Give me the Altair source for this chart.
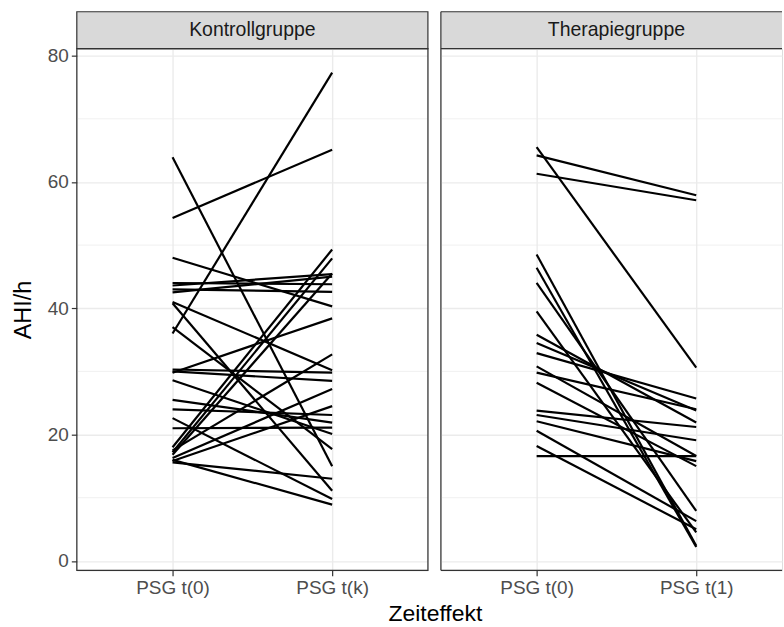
import altair as alt
import pandas as pd

panels = ["Kontrollgruppe", "Therapiegruppe"]
x_labels_left = ["PSG t(0)", "PSG t(k)"]
x_labels_right = ["PSG t(0)", "PSG t(1)"]
y_ticks = [0, 20, 40, 60, 80]
y_minor = [10, 30, 50, 70]

kontroll_t0 = [63.9, 54.3, 36.0, 48.0, 44.0, 43.6, 43.0, 42.5, 41.0, 40.8, 37.0, 30.3, 30.0, 29.8,
               28.6, 25.5, 24.0, 22.6, 21.0, 18.0, 17.5, 17.2, 16.8, 16.3, 15.8, 15.6, 16.0]
kontroll_tk = [15.0, 65.1, 77.3, 40.3, 43.8, 45.4, 42.6, 45.0, 30.2, 11.1, 17.7, 29.8, 28.5, 38.4,
               20.1, 21.9, 23.1, 9.8, 21.1, 49.3, 32.7, 47.9, 45.5, 27.2, 24.5, 13.0, 8.9]

therapie_t0 = [65.5, 64.2, 61.3, 48.5, 46.4, 44.0, 39.5, 35.8, 34.5, 32.9, 30.8, 29.8, 28.2, 23.8,
               23.1, 22.1, 20.6, 18.2, 16.6]
therapie_t1 = [30.6, 57.9, 57.1, 2.4, 2.2, 7.9, 4.5, 21.9, 23.8, 25.7, 16.6, 24.0, 15.0, 21.2,
               19.1, 15.8, 6.3, 5.0, 16.6]

W_L, W_R, H, STRIP = 352, 342, 523, 37
Y_DOMAIN = [-1.5, 81.1]
FONT = "Liberation Sans"


def panel(name, t0, t1, labels, width, x_max, first):
    n = len(t0)
    df = pd.DataFrame({"id": list(range(n)) * 2, "t": [0] * n + [1] * n, "ahi": list(t0) + list(t1)})
    minor_df = pd.DataFrame({"ahi": y_minor})
    strip_df = pd.DataFrame({"panel": [name]})
    label_expr = f"datum.value == 0 ? '{labels[0]}' : '{labels[1]}'"

    xscale = alt.Scale(domain=[-0.6, x_max], nice=False, zero=False)
    yscale = alt.Scale(domain=Y_DOMAIN, nice=False, zero=False)

    xaxis_kw = dict(values=[0, 1], labelExpr=label_expr, grid=True, gridColor="#EBEBEB", gridWidth=1.4,
                    labelFontSize=19, labelColor="#4D4D4D", labelPadding=3, tickColor="#333333",
                    tickSize=5.5, tickWidth=1.2, domain=False, labelFont=FONT)
    if first:
        xaxis = alt.Axis(title="Zeiteffekt", titleX=359, titleY=50, titleBaseline="alphabetic",
                         titleAnchor="start", titleAlign="center", titleFontSize=23,
                         titleFontWeight="normal", titleColor="#000000", titleFont=FONT, **xaxis_kw)
        yaxis = alt.Axis(values=y_ticks, title="AHI/h", grid=True, gridColor="#EBEBEB", gridWidth=1.4,
                         labelFontSize=19, labelColor="#4D4D4D", labelPadding=3, tickColor="#333333",
                         tickSize=5.5, tickWidth=1.2, domain=False, titleFontSize=23.5,
                         titleFontWeight="normal", titleColor="#000000", titlePadding=12,
                         labelFont=FONT, titleFont=FONT)
    else:
        xaxis = alt.Axis(title=None, **xaxis_kw)
        yaxis = alt.Axis(values=y_ticks, title=None, grid=True, gridColor="#EBEBEB", gridWidth=1.4,
                         labels=False, ticks=False, domain=False)

    minor = alt.Chart(minor_df).mark_rule(color="#EBEBEB", strokeWidth=0.7).encode(
        y=alt.Y("ahi:Q", scale=yscale, axis=yaxis), x=alt.value(0), x2=alt.value(width))

    lines = alt.Chart(df).mark_line(color="black", strokeWidth=2.2).encode(
        x=alt.X("t:Q", scale=xscale, axis=xaxis),
        y=alt.Y("ahi:Q", scale=yscale, axis=yaxis),
        detail="id:N",
    )

    layers = [minor, lines]
    if first:
        layers.append(alt.Chart(strip_df).mark_rect(filled=False, stroke="#333333", strokeWidth=1.2).encode(
            x=alt.value(0), x2=alt.value(width), y=alt.value(0), y2=alt.value(H)))
        layers.append(alt.Chart(strip_df).mark_rect(fill="#D9D9D9", stroke="#333333", strokeWidth=1.2).encode(
            x=alt.value(0), x2=alt.value(width), y=alt.value(-STRIP), y2=alt.value(0)))
    else:
        layers.append(alt.Chart(strip_df).mark_rect(fill="#D9D9D9").encode(
            x=alt.value(0), x2=alt.value(width), y=alt.value(-STRIP), y2=alt.value(0)))
        for yv in [-STRIP, 0, H]:
            layers.append(alt.Chart(strip_df).mark_rule(color="#333333", strokeWidth=1.2).encode(
                x=alt.value(0), x2=alt.value(width), y=alt.value(yv)))
        layers.append(alt.Chart(strip_df).mark_rule(color="#333333", strokeWidth=1.2).encode(
            x=alt.value(0), y=alt.value(-STRIP), y2=alt.value(H)))

    layers.append(alt.Chart(strip_df).mark_text(fontSize=19.5, color="#1A1A1A", baseline="middle",
                                                align="center", font=FONT).encode(
        x=alt.value(176), y=alt.value(-STRIP / 2), text="panel:N"))

    return alt.layer(*layers).properties(width=width, height=H)


left = panel(panels[0], kontroll_t0, kontroll_tk, x_labels_left, W_L, 1.6, True)
right = panel(panels[1], therapie_t0, therapie_t1, x_labels_right, W_R, -0.6 + W_R / 160, False)

chart = alt.hconcat(left, right, spacing=13, bounds="flush").properties(
    padding={"left": 10, "top": 9, "right": 0, "bottom": 0},
    background="white",
).configure_view(stroke="transparent").configure(font=FONT)

chart.save("out.html", embed_options={"renderer": "svg", "actions": False})
